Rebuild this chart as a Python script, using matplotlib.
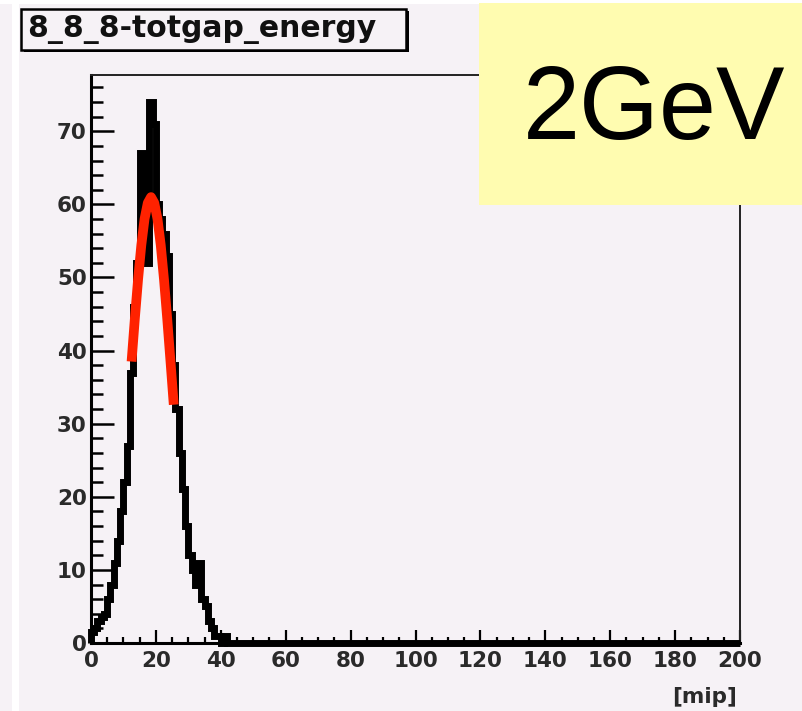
import numpy as np
import matplotlib.pyplot as plt
from matplotlib.patches import Rectangle
from matplotlib.ticker import MultipleLocator

# contenido de los bins (ancho 1 mip), de 0 a 41 mip
hist_bajo = [1.5, 2, 3, 3.5, 4, 6, 8, 11, 14, 18, 22, 27, 37, 46, 52, 67, 57, 52,
             74, 71, 60, 58, 56, 53, 45, 38, 32, 26, 21, 16, 12, 10, 8, 11, 6, 5,
             3, 2, 1, 1, 0, 1]
n_bins = 200
cuentas = hist_bajo + [0] * (n_bins - len(hist_bajo))
bordes = np.arange(0, n_bins + 1, 1)

# curva del ajuste (rojo)
ajuste_x = [12.5, 13.5, 14.5, 15.5, 16.5, 17.5, 18.5, 19.5, 20.5, 21.5, 22.5, 23.5, 24.5, 25.5]
ajuste_y = [38.5, 44.3, 49.7, 54.4, 58.0, 60.2, 61.0, 60.2, 58.0, 54.4, 49.7, 44.3, 38.5, 32.6]

x_ticks = list(range(0, 201, 20))
y_ticks = list(range(0, 71, 10))

titulo = '8_8_8-totgap_energy'
energia = '2GeV'
unidad = '[mip]'

fondo = '#f6f2f6'
W, H = 802, 711

fig = plt.figure(figsize=(W / 100, H / 100), dpi=100, facecolor=fondo)
ax = fig.add_axes([91 / W, 1 - 643 / H, (740 - 91) / W, (643 - 75) / H])
ax.set_facecolor(fondo)

# histograma negro
ax.stairs(cuentas, bordes, baseline=0, color='black', linewidth=5.0, clip_on=False, zorder=3)
# ajuste rojo
ax.plot(ajuste_x, ajuste_y, color='#ff2200', linewidth=7.0, solid_capstyle='butt', zorder=4)

ax.set_xlim(0, 200)
ax.set_ylim(0, 77.7)
ax.set_xticks(x_ticks)
ax.set_yticks(y_ticks)
ax.xaxis.set_minor_locator(MultipleLocator(5))
ax.yaxis.set_minor_locator(MultipleLocator(2))

fuente = dict(family='DejaVu Sans', weight='bold', size=15.5, color='#2a2a2a')
ax.set_xticklabels([str(t) for t in x_ticks], fontdict=fuente)
ax.set_yticklabels([str(t) for t in y_ticks], fontdict=fuente)

ax.tick_params(axis='y', which='major', direction='in', length=16.5, width=1.8, pad=3)
ax.tick_params(axis='y', which='minor', direction='in', length=8.5, width=1.8)
ax.tick_params(axis='x', which='major', direction='in', length=9.5, width=1.6, pad=6)
ax.tick_params(axis='x', which='minor', direction='in', length=4.3, width=1.6)

for lado in ['left', 'bottom']:
    ax.spines[lado].set_linewidth(2.2)
    ax.spines[lado].set_color('black')
for lado in ['top', 'right']:
    ax.spines[lado].set_linewidth(1.4)
    ax.spines[lado].set_color('#222222')

# franjas blancas del borde
fig.patches.append(Rectangle((12 / W, 0), 7 / W, 1 - 4 / H, transform=fig.transFigure,
                             facecolor='white', edgecolor='none', zorder=0))
fig.patches.append(Rectangle((0, 1 - 4 / H), 1, 4 / H, transform=fig.transFigure,
                             facecolor='white', edgecolor='none', zorder=0))

# caja del titulo con sombra
fig.patches.append(Rectangle((24 / W, 1 - 52 / H), (406 - 21) / W, (50 - 9) / H,
                             transform=fig.transFigure, facecolor='black', edgecolor='none', zorder=5))
fig.patches.append(Rectangle((21 / W, 1 - 50 / H), (406 - 21) / W, (50 - 9) / H,
                             transform=fig.transFigure, facecolor=fondo, edgecolor='black',
                             linewidth=1.8, zorder=6))
fig.text(27 / W, 1 - 29 / H, titulo, ha='left', va='center', family='DejaVu Sans',
         weight='bold', size=21.5, color='#111111', zorder=7)

# caja amarilla con la energia
fig.patches.append(Rectangle((479 / W, 1 - 205 / H), (W - 479) / W, (205 - 3) / H,
                             transform=fig.transFigure, facecolor='#fffcb0', edgecolor='none', zorder=8))
fig.text(654 / W, 1 - 113 / H, energia, ha='center', va='center', family='Liberation Sans',
         size=74, color='black', zorder=9)

fig.text(737 / W, 1 - 697 / H, unidad, ha='right', va='center', **fuente)

plt.savefig('out.png', dpi=100, facecolor=fondo)
